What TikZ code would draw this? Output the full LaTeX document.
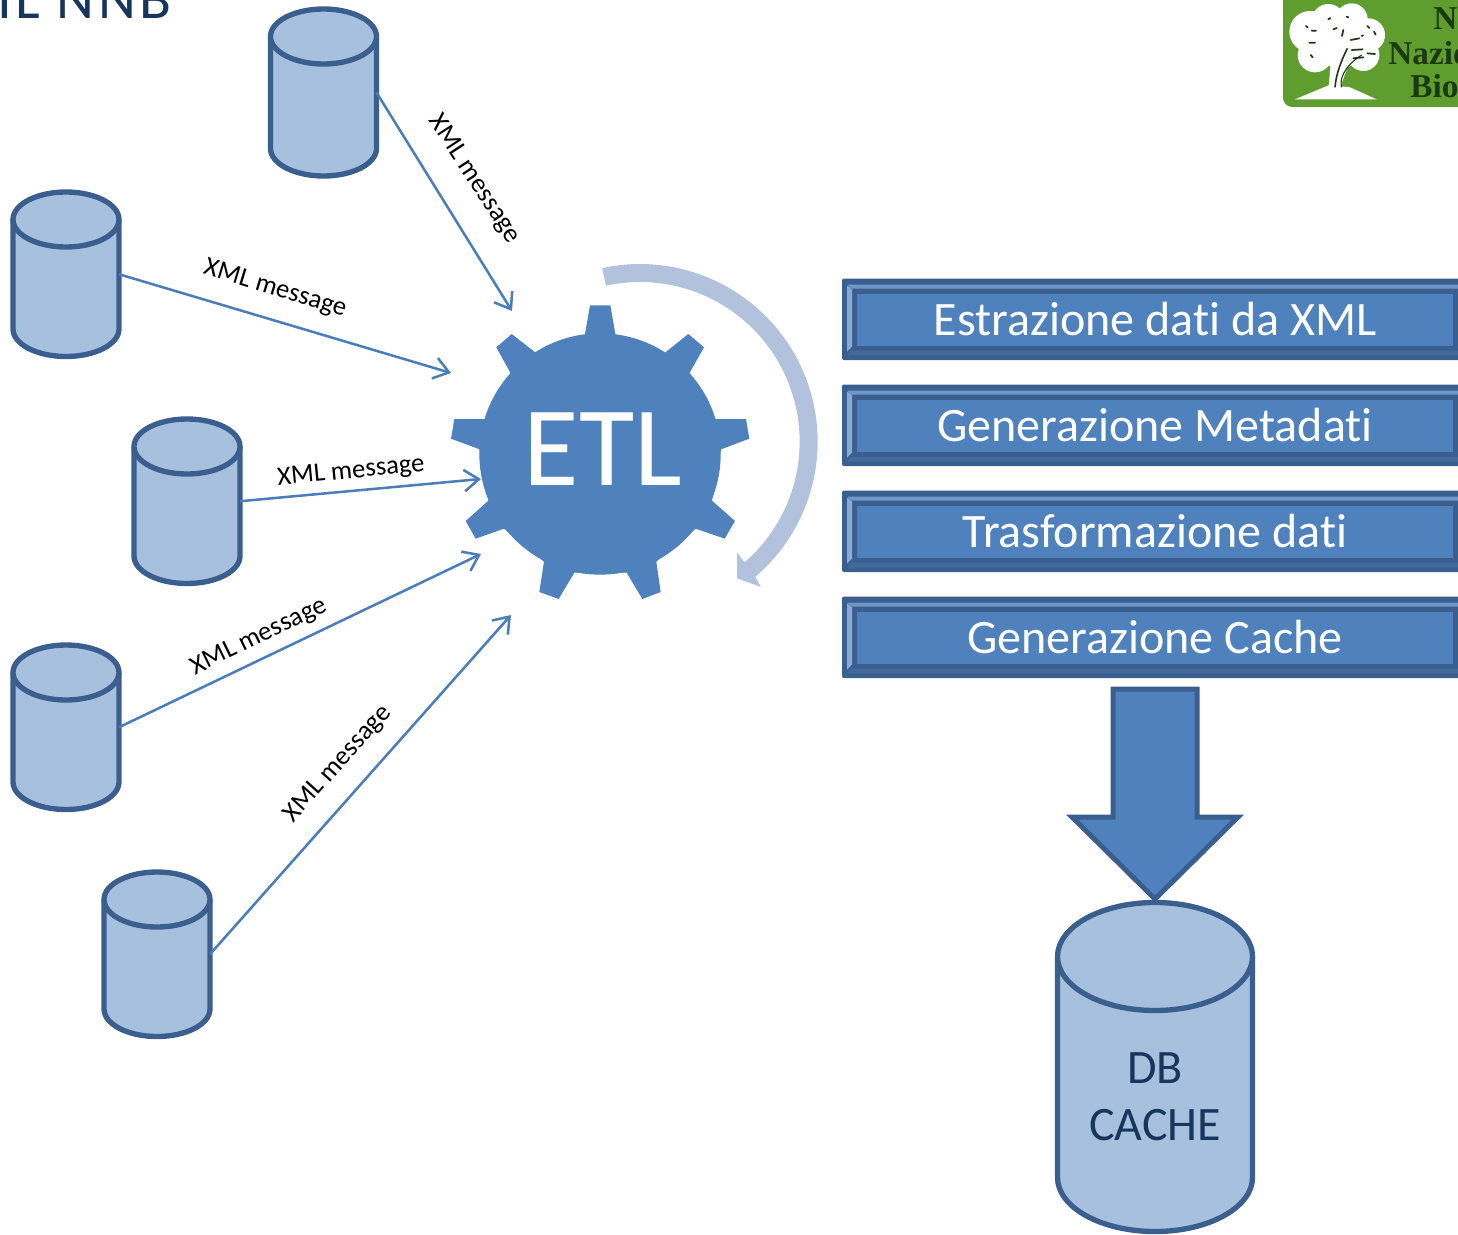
\documentclass[tikz,border=0pt]{standalone}
\usepackage{fontspec}
\setmainfont{Carlito}[Ligatures=NoCommon]
\newfontfamily\logofont{Liberation Serif}
\usetikzlibrary{arrows.meta}
\definecolor{dkline}{HTML}{3A5F8F}
\definecolor{cylfill}{HTML}{A7C0DE}
\definecolor{mainblue}{HTML}{4F81BD}
\definecolor{linkblue}{HTML}{4A7EBB}
\definecolor{pale}{HTML}{B2C1DC}
\definecolor{titleblue}{HTML}{17365D}
\definecolor{logogreen}{HTML}{5F9E2E}
\definecolor{logotext}{HTML}{1C3A12}
\definecolor{bevtop}{HTML}{6F97C8}
\definecolor{bevleft}{HTML}{8AAAD3}
\definecolor{bevbottom}{HTML}{42699C}
\definecolor{bevright}{HTML}{3F6596}
\tikzset{
  dbline/.style={draw=dkline,line width=4pt,line join=round},
  link/.style={draw=linkblue,line width=1.9pt,-{Straight Barb[length=11pt,width=16pt,line width=1.9pt]}},
  msg/.style={font=\fontsize{20}{24}\selectfont,text=black,inner sep=0pt},
  boxtext/.style={font=\fontsize{36}{43}\selectfont,text=white,fill=mainblue,minimum width=447pt,minimum height=39pt,inner sep=0pt},
  logotxt/.style={anchor=base west,inner sep=0pt,text=logotext,font=\logofont\bfseries\fontsize{25}{28}\selectfont},
}
% name, centre x, top y, bottom y, x radius, y radius (centre line of the outline)
\newcommand{\cyl}[6]{%
  \pgfmathsetmacro\cylh{(#4-#3-2*#6)/#6}%
  \begin{scope}[shift={(#2,#3+#6)},x=#5*0.75pt,y=-#6*0.75pt]
    \path[fill=cylfill,dbline] (-1,0) -- (-1,\cylh)
      .. controls (-1,\cylh+0.5523) and (-0.5523,\cylh+1) .. (0,\cylh+1)
      .. controls (0.5523,\cylh+1) and (1,\cylh+0.5523) .. (1,\cylh) -- (1,0);
    \path[fill=cylfill,dbline] (0,0) circle (1);
  \end{scope}
  \node[inner sep=0pt,outer sep=0pt,minimum width=#5*1.5pt,minimum height=(#4-#3)*0.75pt] (#1) at (#2,{(#3+#4)/2}) {};%
}
\newcommand{\bevbox}[3]{%
  \begin{scope}[shift={(0,#2)}]
    \fill[dkline,rounded corners=1.5pt] (842,0) rectangle (1468,81.5);
    \fill[bevtop] (847,6) -- (1463,6) -- (1459,10) -- (851,10) -- cycle;
    \fill[bevleft] (847,7) -- (852,11) -- (852,68) -- (847,73) -- cycle;
    \fill[bevbottom] (851,72) -- (1459,72) -- (1463,77) -- (847,77) -- cycle;
    \fill[bevright] (1463,7) -- (1459,11) -- (1459,68) -- (1463,73) -- cycle;
  \end{scope}
  \node[boxtext] (#1) at (1155,#2+41) {#3};
}
\begin{document}
\begin{tikzpicture}[x=0.75pt,y=-0.75pt]
\useasboundingbox (0,0) rectangle (1458,1234);
\clip (0,0) rectangle (1458,1234);

% title fragment
\node[anchor=base west,inner sep=0pt,text=titleblue,font=\fontsize{44}{50}\selectfont] (title) at (-3,19) {\addfontfeatures{LetterSpace=6}IL NNB};

% logo
\fill[logogreen,rounded corners=7pt] (1283,-20) rectangle (1490,107);
\begin{scope}[shift={(1260,0)},x=0.25pt,y=-0.25pt]
  \fill[white] (150,95) circle (62) (205,62) circle (50) (275,58) circle (48) (325,105) circle (50)
     (165,165) circle (52) (310,165) circle (48) (240,130) circle (75);
  \fill[white] (212,190) -- (270,150) -- (262,205) -- (240,262) -- (206,258) -- cycle;
  \fill[white] (105,298) -- (208,255) -- (270,262) -- (350,298) -- cycle;
  \draw[logotext,line width=1.3pt,line cap=round]
     (205,58) -- (211,54) (260,50) -- (265,52) (138,78) -- (143,82) (155,92) -- (168,92)
     (220,88) -- (230,84) (250,90) -- (246,108) (322,78) -- (328,84) (342,95) -- (347,104)
     (272,120) -- (298,115) (305,108) -- (309,106) (148,128) -- (165,128) (152,165) -- (158,172)
     (275,150) -- (308,148) (280,175) -- (310,172) (322,160) -- (345,162);
  \draw[logotext,line width=1.2pt] (225,262) .. controls (228,225) and (240,190) .. (262,145);
  \draw[logotext,line width=0.8pt] (245,262) .. controls (238,240) and (250,200) .. (305,165);
\end{scope}
\node[logotxt] (logo1) at (1433,30) {Ne};
\node[logotxt] (logo2) at (1388,65) {Nazio};
\node[logotxt] (logo3) at (1410,98) {Bio};

% source cylinders
\cyl{s1}{323.5}{9}{176}{53}{27.5}
\cyl{s2}{66}{192}{356.5}{53}{27.5}
\cyl{s3}{187}{419}{583.5}{53}{27.5}
\cyl{s4}{66}{645}{809.5}{53}{27.5}
\cyl{s5}{157}{872}{1036.5}{53}{27.5}

% gear (zoom coordinates: origin 440,250, one third of a pixel per unit)
\begin{scope}[shift={(440,250)},x=0.25pt,y=-0.25pt]
  \fill[mainblue] (480,612) circle (362);
  \fill[mainblue] (450,166) -- (511,166) -- (527,257) -- (675,308) -- (745,252) -- (792,292)
    -- (748,370) -- (826,507) -- (918,507) -- (928,566) -- (843,598) -- (816,752) -- (885,813)
    -- (854,866) -- (767,836) -- (649,935) -- (662,1026) -- (607,1047) -- (560,968) -- (403,968)
    -- (356,1047) -- (298,1026) -- (312,935) -- (192,836) -- (107,866) -- (77,813) -- (145,752)
    -- (119,598) -- (33,566) -- (43,507) -- (136,507) -- (212,370) -- (169,292) -- (215,252)
    -- (287,308) -- (434,257) -- cycle;
  % curved arrow
  \fill[pale] plot[domain=-102.3:49.6,samples=70] ({600+533*cos(\x)},{575+533*sin(\x)})
     -- (963,1011) -- (891,985) -- (891,907) -- (912,935)
     -- plot[domain=49.1:-102.3,samples=70] ({600+479*cos(\x)},{575+479*sin(\x)}) -- cycle;
\end{scope}
\node[inner sep=0pt,text=white,font=\fontsize{85}{90}\selectfont] (etl) at (603,449) {ETL};

% free ends of the links
\coordinate (t1) at (512,311);
\coordinate (t2) at (451,373);
\coordinate (t3) at (481,479);
\coordinate (t4) at (481,554);
\coordinate (t5) at (511,615);

\draw[link] (s1.east) -- (t1);
\draw[link] (s2.east) -- (t2);
\draw[link] (s3.east) -- (t3);
\draw[link] (s4.east) -- (t4);
\draw[link] (s5.east) -- (t5);

\node[msg,rotate=-57] (m1) at (474,179) {XML message};
\node[msg,rotate=-17] (m2) at (275,289) {XML message};
\node[msg,rotate=5.5] (m3) at (351,472) {XML message};
\node[msg,rotate=26] (m4) at (259,637) {XML message};
\node[msg,rotate=48] (m5) at (338,764) {XML message};

% process boxes
\bevbox{b1}{278.5}{Estrazione dati da XML}
\bevbox{b2}{384.5}{Generazione Metadati}
\bevbox{b3}{490.5}{Trasformazione dati}
\bevbox{b4}{596.5}{Generazione Cache}

% down arrow
\draw[fill=mainblue,draw=dkline,line width=3.75pt] (1113,689) -- (1197,689) -- (1197,817) -- (1238,817)
   -- (1155,899) -- (1072,817) -- (1113,817) -- cycle;

% cache
\cyl{cache}{1155}{902.5}{1231.5}{97.5}{54}
\node[align=center,inner sep=0pt,text=titleblue,font=\fontsize{36}{42.5}\selectfont] (cachetext) at (1155,1097) {DB\\CACHE};
\end{tikzpicture}
\end{document}
